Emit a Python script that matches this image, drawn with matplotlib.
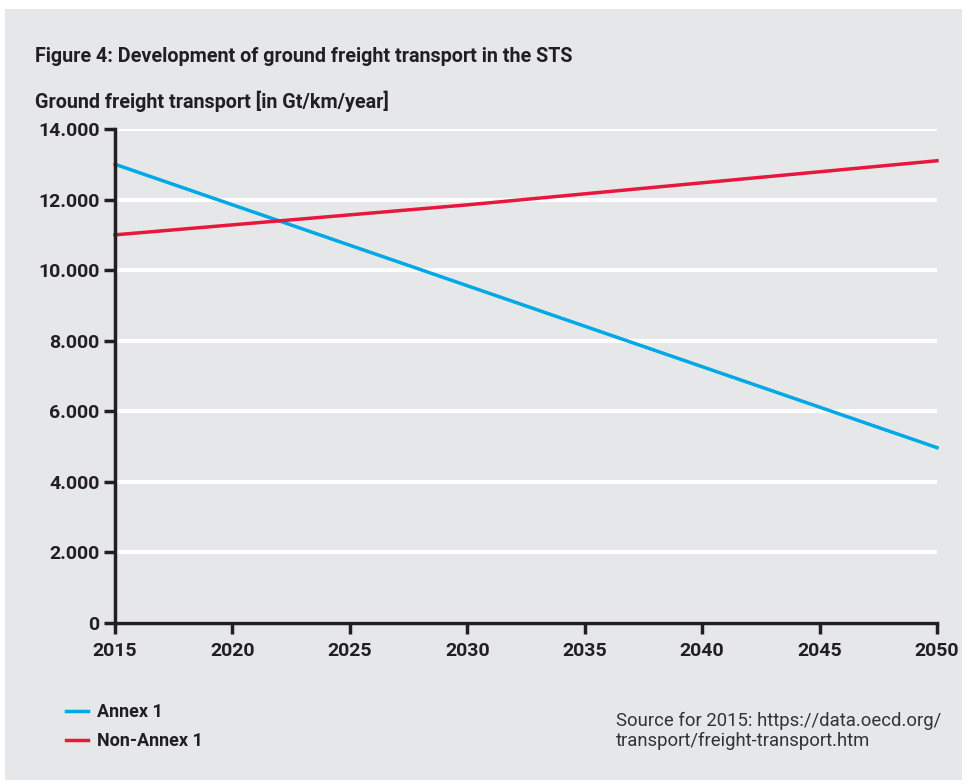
import matplotlib.pyplot as plt
from matplotlib.ticker import FuncFormatter
from matplotlib.patches import Rectangle
from matplotlib.lines import Line2D

years_annex = [2015, 2050]
annex1 = [13000, 4970]
years_non = [2015, 2030, 2050]
non_annex1 = [11000, 11850, 13100]

labels = ['Annex 1', 'Non-Annex 1']
colors = ['#00a8e6', '#e8173d']

bg = '#e6e7e9'
ink = '#231f20'
fam = ['Roboto', 'DejaVu Sans']
plt.rcParams['font.family'] = fam

fig = plt.figure(figsize=(9.67, 7.84), dpi=100)
fig.patch.set_facecolor('white')
fig.patches.append(Rectangle((5/967, 1 - 780/784), 957/967, 771/784,
                             transform=fig.transFigure, facecolor=bg,
                             edgecolor='none', zorder=-10))

ax = fig.add_axes([115/967, 1 - 623/784, 822/967, 494/784])
ax.set_facecolor(bg)

ax.plot(years_annex, annex1, color=colors[0], lw=2.5, zorder=3, clip_on=False)
ax.plot(years_non, non_annex1, color=colors[1], lw=2.5, zorder=3, clip_on=False)

ax.set_xlim(2015, 2050)
ax.set_ylim(0, 14000)
ax.set_xticks(range(2015, 2051, 5))
ax.set_yticks(range(0, 14001, 2000))
ax.yaxis.set_major_formatter(FuncFormatter(lambda v, p: f'{int(v):,}'.replace(',', '.')))
ax.grid(axis='y', color='white', lw=3)
ax.set_axisbelow(True)

for s in ['top', 'right']:
    ax.spines[s].set_visible(False)
for s in ['left', 'bottom']:
    ax.spines[s].set_color(ink)
    ax.spines[s].set_linewidth(2.5)
    ax.spines[s].set_zorder(4)

ax.tick_params(axis='both', length=8, width=2.5, color=ink, labelcolor=ink,
               labelsize=14)
ax.tick_params(axis='x', pad=6)
ax.tick_params(axis='y', pad=3)
for t in ax.get_xticklabels() + ax.get_yticklabels():
    t.set_fontweight('bold')

fig.text(35/967, 1 - 57/784, 'Figure 4: Development of ground freight transport in the STS',
         fontsize=14.2, fontweight='bold', color=ink, va='center')
fig.text(35/967, 1 - 101/784, 'Ground freight transport [in Gt/km/year]',
         fontsize=14.2, fontweight='bold', color=ink, va='center')

handles = [Line2D([], [], color=c, lw=2.5) for c in colors]
fig.legend(handles, labels, loc='upper left', bbox_to_anchor=(50/967, 1 - 687/784),
           frameon=False, handlelength=1.2, handletextpad=0.5, labelspacing=0.6,
           prop={'family': fam, 'weight': 'bold', 'size': 13}, labelcolor=ink)

fig.text(616/967, 1 - 731/784,
         'Source for 2015: https://data.oecd.org/\ntransport/freight-transport.htm',
         fontsize=13.3, color='#333333', va='center', linespacing=1.15)

fig.savefig('out.png', dpi=100, facecolor=fig.get_facecolor())
